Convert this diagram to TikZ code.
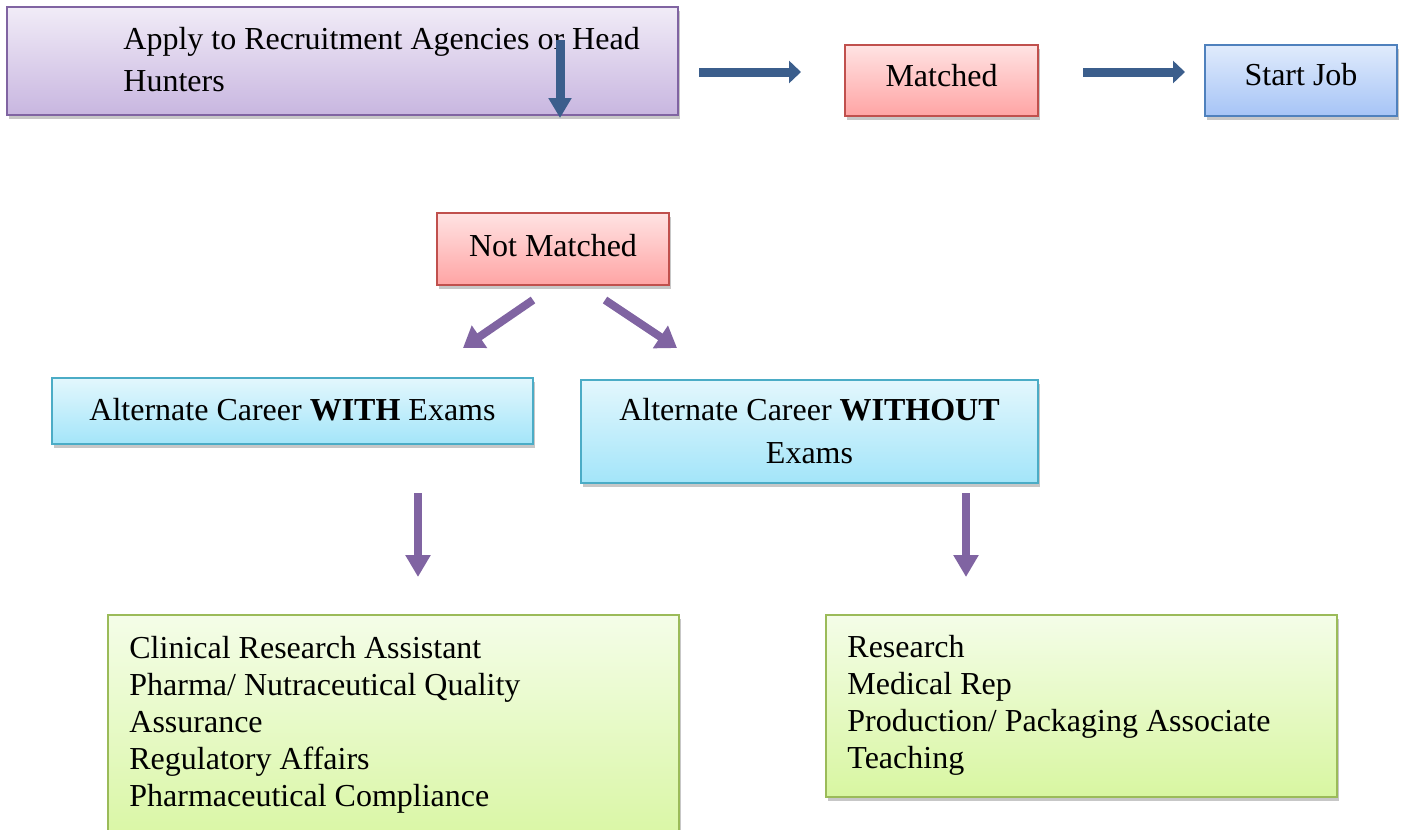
\documentclass[tikz,border=0pt]{standalone}
\usepackage{fontspec}
\setmainfont{Liberation Serif}
\usepackage{xcolor}
\usetikzlibrary{arrows.meta,shadows}
\definecolor{linepurple}{HTML}{8064A2}
\definecolor{linered}{HTML}{C0504D}
\definecolor{lineblue}{HTML}{4F81BD}
\definecolor{linecyan}{HTML}{4BACC6}
\definecolor{linegreen}{HTML}{9BBB59}
\definecolor{arrowblue}{HTML}{3B5E8C}
\definecolor{purpletop}{HTML}{F1ECF7}
\definecolor{purplebot}{HTML}{C8B6E0}
\definecolor{redtop}{HTML}{FFE3E3}
\definecolor{redbot}{HTML}{FFA4A4}
\definecolor{bluetop}{HTML}{E0EBFC}
\definecolor{bluebot}{HTML}{A6C4F6}
\definecolor{cyantop}{HTML}{E3F7FD}
\definecolor{cyanbot}{HTML}{A3E5F9}
\definecolor{greentop}{HTML}{F4FDE8}
\definecolor{greenbot}{HTML}{D8F6A1}
\tikzset{
  card/.style={draw, line width=1pt, inner sep=0pt, font=\fontsize{16}{18.5}\selectfont,
    drop shadow={shadow xshift=0.8pt, shadow yshift=-2pt, fill=black!22, opacity=1}},
  purplecard/.style={card, draw=linepurple, top color=purpletop, bottom color=purplebot},
  redcard/.style={card, draw=linered, top color=redtop, bottom color=redbot},
  bluecard/.style={card, draw=lineblue, top color=bluetop, bottom color=bluebot},
  cyancard/.style={card, draw=linecyan, top color=cyantop, bottom color=cyanbot, align=center},
  greencard/.style={card, draw=linegreen, top color=greentop, bottom color=greenbot},
  listtext/.style={inner sep=0pt, align=left, font=\fontsize{16}{18.5}\selectfont},
  bluearrow/.style={arrowblue, line width=4.5pt, -{Triangle[width=11pt,length=6pt]}},
  purplearrow/.style={linepurple, line width=4pt, -{Triangle[width=12pt,length=11pt]}}
}
\begin{document}
\begin{tikzpicture}[x=0.5pt,y=-0.5pt]
    \useasboundingbox (0,0) rectangle (1403,830);
    \clip (0,0) rectangle (1403,830);
    \node[purplecard, minimum width=335.5pt, minimum height=54pt] (apply) at (342.5,61) {};
    \node[listtext, font=\fontsize{16}{21}\selectfont, anchor=north west] (applytext) at (123,27) {Apply to Recruitment Agencies or Head\\Hunters};
    \node[redcard, minimum width=96.5pt, minimum height=35.5pt, text depth=5pt] (matched) at (941.5,80.5) {Matched};
    \node[bluecard, minimum width=96pt, minimum height=35.5pt, text depth=6pt] (startjob) at (1301,80.5) {Start Job};
    \node[redcard, minimum width=116pt, minimum height=36pt, text depth=4pt] (notmatched) at (553,249) {Not Matched};
    \node[cyancard, minimum width=240.5pt, minimum height=33pt, text depth=2pt] (withexams) at (292.5,411) {Alternate Career \textbf{WITH} Exams};
    \node[cyancard, minimum width=228.5pt, minimum height=51.5pt, font=\fontsize{16}{21.5}\selectfont] (withoutexams) at (809.5,431.5) {Alternate Career \textbf{WITHOUT}\\Exams};
    \node[greencard, minimum width=285.5pt, minimum height=117.5pt] (withlist) at (393.5,732.5) {};
    \node[greencard, minimum width=255.5pt, minimum height=91pt] (withoutlist) at (1081.5,706) {};
    \node[listtext, anchor=north west] (withitems) at (129,636) {Clinical Research Assistant\\Pharma/ Nutraceutical Quality\\Assurance\\Regulatory Affairs\\Pharmaceutical Compliance};
    \node[listtext, anchor=north west] (withoutitems) at (847,635) {Research\\Medical Rep\\Production/ Packaging Associate\\Teaching};
    \foreach \n/\x/\y in {toma/699/72,tomb/801/72,tosa/1083/72,tosb/1185/72,dna/560/40,dnb/560/118,
        la/533/300,lb/463/348,ra/605/300,rb/677/348,wa/418/493,wb/418/577,woa/966/493,wob/966/577} { \coordinate (\n) at (\x,\y); }
    \draw[bluearrow] (toma) -- (tomb);
    \draw[bluearrow] (tosa) -- (tosb);
    \draw[bluearrow, -{Triangle[width=11pt,length=10pt]}] (dna) -- (dnb);
    \draw[purplearrow, -{Triangle[width=13pt,length=10pt]}] (la) -- (lb);
    \draw[purplearrow, -{Triangle[width=13pt,length=10pt]}] (ra) -- (rb);
    \draw[purplearrow] (wa) -- (wb);
    \draw[purplearrow] (woa) -- (wob);
\end{tikzpicture}
\end{document}
